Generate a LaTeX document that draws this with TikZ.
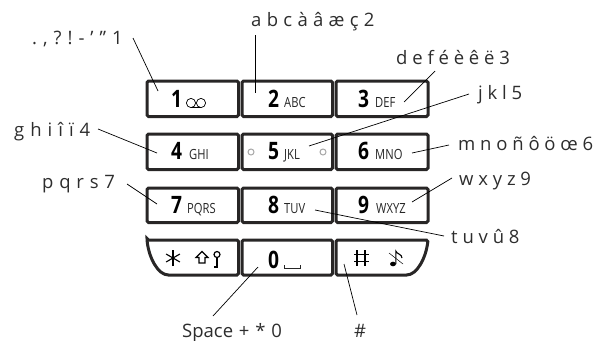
\documentclass[tikz,border=0pt]{standalone}
\usepackage{fontspec}
\setmainfont{Open Sans}
\newfontfamily\narrowfont[FakeStretch=0.8]{Open Sans}
\definecolor{keyc}{RGB}{40,38,38}
\definecolor{labc}{RGB}{45,45,45}
\tikzset{
 x=1pt,y=-1pt,
 keybox/.style={draw=keyc,line width=3pt,rounded corners=1.6pt},
 lead/.style={draw=black,line width=0.7pt},
 lab/.style={font=\fontsize{18.5}{20}\selectfont,text=labc,inner sep=0pt,anchor=base west},
 num/.style={font=\narrowfont\fontsize{24}{26}\selectfont\bfseries,inner sep=0pt,anchor=base west},
 sub/.style={font=\narrowfont\fontsize{14}{15}\selectfont,inner sep=0pt,anchor=base west,text=black!85},
 icon/.style={line width=1pt,draw=black},
}
\begin{document}
\begin{tikzpicture}
\useasboundingbox (0,0) rectangle (597,340);
% keys
\draw[keybox] (147,81) rectangle (238.5,116.5);
\draw[keybox] (242,81) rectangle (332.5,116.5);
\draw[keybox] (336,81) rectangle (428,116.5);
\draw[keybox] (147,134) rectangle (238.5,169.5);
\draw[keybox] (242,134) rectangle (332.5,169.5);
\draw[keybox] (336,134) rectangle (428,169.5);
\draw[keybox] (147,188) rectangle (238.5,222.5);
\draw[keybox] (242,188) rectangle (332.5,222.5);
\draw[keybox] (336,188) rectangle (428,222.5);
\draw[keybox] (147,240) -- (238.5,240) -- (238.5,275) -- (170,275) .. controls (158,275) and (149,258) .. cycle;
\draw[keybox] (242,240) rectangle (332.5,275);
\draw[keybox] (336,240) -- (428,240) .. controls (426,258) and (417,275) .. (405,275) -- (336,275) -- cycle;
% digits
\node[num] (n1) at (171,107) {1};
\node[num] (n2) at (268,107) {2};
\node[num] (n3) at (358,107) {3};
\node[num] (n4) at (171,159) {4};
\node[num] (n5) at (268,159) {5};
\node[num] (n6) at (358,159) {6};
\node[num] (n7) at (171,213) {7};
\node[num] (n8) at (268,213) {8};
\node[num] (n9) at (358,213) {9};
\node[num] (n0) at (268,268) {0};
\node[sub] (s2) at (284,107) {ABC};
\node[sub] (s3) at (375,107) {DEF};
\node[sub] (s4) at (189,159) {GHI};
\node[sub] (s5) at (284,159) {JKL};
\node[sub] (s6) at (375,159) {MNO};
\node[sub] (s7) at (187,213) {PQRS};
\node[sub] (s8) at (284,213) {TUV};
\node[sub] (s9) at (376,213) {WXYZ};
% voicemail icon
\draw[line width=0.7pt] (191,103) circle (4.6) (201,103) circle (4.6);
\draw[line width=0.7pt] (191,107.6) -- (201,107.6);
% grey dots on 5
\draw[gray!70,line width=1pt] (251,152) circle (3) (323,152) circle (3);
% space
\draw[line width=0.9pt,black!85] (284,265) -- (284,268) -- (300,268) -- (300,265);
% star
\foreach \a in {30,90,150}{\draw[icon,line width=1.1pt] (173,258) ++(\a:8) -- ++(\a+180:16);}
% shift
\draw[icon,line width=1.2pt,line join=miter] (208,257.5) -- (202,251.5) -- (196,257.5) -- (199,257.5) -- (199,263) -- (205,263) -- (205,257.5) -- cycle;
% key
\draw[icon,line width=1.2pt] (217,254.5) circle (3);
\draw[icon,line width=1.2pt] (217,257.5) -- (217,267) -- (214,267);
% hash
\draw[icon,line width=1.3pt] (357,250) -- (357,266) (365,250) -- (365,266) (354,254.5) -- (369,254.5) (354,261.5) -- (369,261.5);
% note
\fill (393,264) ellipse (3 and 2.3);
\draw[icon,line width=1.1pt] (395.8,264) -- (395.8,251) .. controls (396.5,254) and (402,254) .. (402,258);
\draw[line width=0.5pt] (389,253) -- (403,264);
% labels
\node[lab] (l1) at (32,44) {.\hspace{6pt},\hspace{6pt}?\hspace{6pt}!\hspace{6pt}-\hspace{6pt}’\hspace{6pt}”\hspace{6pt}1};
\node[lab] (l2) at (251,27) {\spaceskip=5.3pt a b c à â æ ç 2};
\node[lab] (l3) at (396,64) {d e f é è ê ë 3};
\node[lab] (l5) at (478,99) {j k l 5};
\node[lab] (l6) at (458,150) {m n o ñ ô ö œ 6};
\node[lab] (l4) at (14,136) {\spaceskip=6pt g h i î ï 4};
\node[lab] (l7) at (42,188) {\spaceskip=5.8pt p q r s 7};
\node[lab] (l9) at (459,185) {w x y z 9};
\node[lab] (l8) at (451,243) {t u v û 8};
\node[lab] (l0) at (182,337) {\spaceskip=5.8pt Space + * 0};
\node[lab] (lh) at (354,337) {\#};
% leaders
\coordinate (a1) at (133,38); \coordinate (b1) at (158,91);
\coordinate (a2) at (255,35); \coordinate (b2) at (255,93);
\coordinate (a3) at (435,71); \coordinate (b3) at (404,102);
\coordinate (a5) at (469,94); \coordinate (b5) at (309,146);
\coordinate (a6) at (449,145); \coordinate (b6) at (412,153);
\coordinate (a4) at (98,129); \coordinate (b4) at (157,153);
\coordinate (a7) at (127,184); \coordinate (b7) at (157,204);
\coordinate (a9) at (452,178); \coordinate (b9) at (412,202);
\coordinate (a8) at (444,236); \coordinate (b8) at (315,210);
\coordinate (a0) at (213,316); \coordinate (b0) at (258,267);
\coordinate (ah) at (357,315); \coordinate (bh) at (344,264);
\foreach \k in {1,2,3,4,5,6,7,8,9,0,h}{\draw[lead] (a\k) -- (b\k);}
\end{tikzpicture}
\end{document}
